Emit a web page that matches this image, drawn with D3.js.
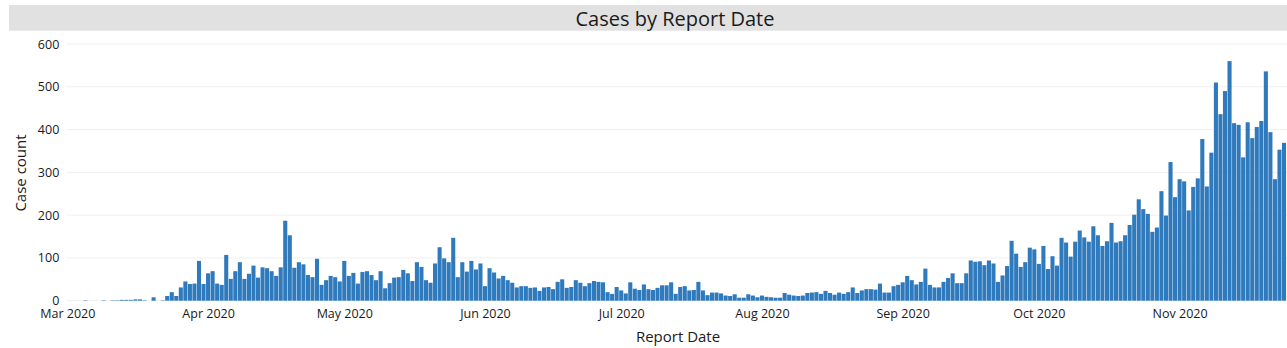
<!DOCTYPE html>
<html>
<head>
<meta charset="utf-8">
<script src="https://cdn.jsdelivr.net/npm/d3@7"></script>
<style>
  html, body { margin: 0; padding: 0; background: #fff; }
  svg { display: block; font-family: "Open Sans", "Noto Sans", sans-serif; }
</style>
</head>
<body>
<svg id="chart" width="1287" height="348"></svg>
<script>
// Daily reported case counts, one array per month (2020)
const marchCounts = [0,0,0,0,1,0,0,0,1,0, 1,1,2,2,2,3,3,1,0,8, 0,1,11,20,11,31,45,39,40,93, 39];
const aprilCounts = [64,69,40,37,107,51,69,90,51, 63,82,54,78,76,69,58,78,187,153, 77,90,85,60,55,98,37,48,58,55, 45];
const mayCounts = [93,58,65,40,67,69,60,48,69, 29,41,54,55,72,64,46,90,79,48, 42,87,125,99,90,147,55,90,68,93, 73,87];
const juneCounts = [34,76,66,52,58,48,42,31, 34,34,30,31,23,31,32,27,44,50, 30,32,48,42,34,41,46,44,43,20, 16,32];
const julyCounts = [24,17,43,28,25,38,27,25, 30,36,36,43,16,32,34,24,25,44, 24,13,19,19,17,12,11,15,7,7, 15,12,8];
const augustCounts = [12,9,8,7,7,18,14, 12,11,12,18,19,20,16,23,18,14, 19,16,20,31,18,24,27,27,26,40, 19,19,34,37];
const septemberCounts = [43,58,48,38,44,75, 37,31,31,44,53,64,41,41,64,94, 91,92,83,94,87,44,59,81,140,110, 79,90,124,120];
const octoberCounts = [86,128,74,104,82,147, 136,103,138,164,148,138,174,153,128,139, 182,136,139,153,177,201,237,214,203,161, 171,256,199,324,242];
const novemberCounts = [284,279,211,266,286, 378,267,346,510,436,490,560,415,411,335, 417,380,406,420,536,394,284,353,369];

const monthSeries = [
  { month: 2, counts: marchCounts },
  { month: 3, counts: aprilCounts },
  { month: 4, counts: mayCounts },
  { month: 5, counts: juneCounts },
  { month: 6, counts: julyCounts },
  { month: 7, counts: augustCounts },
  { month: 8, counts: septemberCounts },
  { month: 9, counts: octoberCounts },
  { month: 10, counts: novemberCounts }
];

const yTicks = [0, 100, 200, 300, 400, 500, 600];
const titleText = "Cases by Report Date";
const xTitle = "Report Date";
const yTitle = "Case count";

// Flatten into one row per report date
const data = monthSeries.flatMap(s =>
  s.counts.map((c, i) => ({ date: new Date(Date.UTC(2020, s.month, i + 1)), count: c }))
);

const svg = d3.select("#chart");

const plot = { left: 62.8, right: 1293.1, top: 31, bottom: 300.7 };

const x = d3.scaleUtc()
  .domain([new Date(Date.UTC(2020, 1, 29)), new Date(Date.UTC(2020, 10, 26))])
  .range([plot.left, plot.right]);

const y = d3.scaleLinear()
  .domain([0, 600])
  .range([plot.bottom, 44]);

const dayWidth = x(new Date(Date.UTC(2020, 2, 2))) - x(new Date(Date.UTC(2020, 2, 1)));
const barWidth = dayWidth * 0.9;

// Facet-style header strip
svg.append("rect")
  .attr("x", 9).attr("y", 5)
  .attr("width", 1400).attr("height", 25.7)
  .attr("fill", "#e1e1e1");

svg.append("text")
  .attr("x", 675).attr("y", 18.5)
  .attr("text-anchor", "middle")
  .attr("dominant-baseline", "central")
  .attr("font-size", 20)
  .attr("fill", "#1a1a1a")
  .text(titleText);

svg.append("defs").append("clipPath").attr("id", "plotClip")
  .append("rect")
  .attr("x", plot.left).attr("y", plot.top)
  .attr("width", plot.right - plot.left).attr("height", plot.bottom - plot.top + 1);

// Horizontal gridlines
svg.append("g")
  .selectAll("line")
  .data(yTicks)
  .join("line")
  .attr("x1", plot.left + 4).attr("x2", plot.right)
  .attr("y1", d => y(d)).attr("y2", d => y(d))
  .attr("stroke", "#efefef")
  .attr("stroke-width", 1);

// Bars
svg.append("g")
  .attr("clip-path", "url(#plotClip)")
  .selectAll("rect")
  .data(data.filter(d => d.count > 0))
  .join("rect")
  .attr("x", d => x(d.date) - barWidth / 2)
  .attr("width", barWidth)
  .attr("y", d => y(d.count))
  .attr("height", d => y(0) - y(d.count))
  .attr("fill", "#2f7abd");

// Y axis labels
const yAxis = d3.axisLeft(y).tickValues(yTicks).tickSize(0).tickPadding(0);
svg.append("g")
  .attr("transform", `translate(${plot.left - 3.5},0)`)
  .call(yAxis)
  .call(g => g.select(".domain").remove())
  .call(g => g.selectAll("text")
    .attr("font-size", 12.5)
    .attr("font-family", "'Open Sans', 'Noto Sans', sans-serif")
    .attr("fill", "#1a1a1a"));

// X axis labels
const xAxis = d3.axisBottom(x)
  .ticks(d3.utcMonth.every(1))
  .tickFormat(d3.utcFormat("%b %Y"))
  .tickSize(0).tickPadding(8);
svg.append("g")
  .attr("transform", `translate(0,${plot.bottom})`)
  .call(xAxis)
  .call(g => g.select(".domain").remove())
  .call(g => g.selectAll("text")
    .attr("font-size", 12.5)
    .attr("font-family", "'Open Sans', 'Noto Sans', sans-serif")
    .attr("fill", "#1a1a1a"));

// Axis titles
svg.append("text")
  .attr("x", 678).attr("y", 336)
  .attr("text-anchor", "middle")
  .attr("dominant-baseline", "central")
  .attr("font-size", 15)
  .attr("fill", "#1a1a1a")
  .text(xTitle);

svg.append("text")
  .attr("transform", "translate(20,173) rotate(-90)")
  .attr("text-anchor", "middle")
  .attr("dominant-baseline", "central")
  .attr("font-size", 15)
  .attr("fill", "#1a1a1a")
  .text(yTitle);
</script>
</body>
</html>
